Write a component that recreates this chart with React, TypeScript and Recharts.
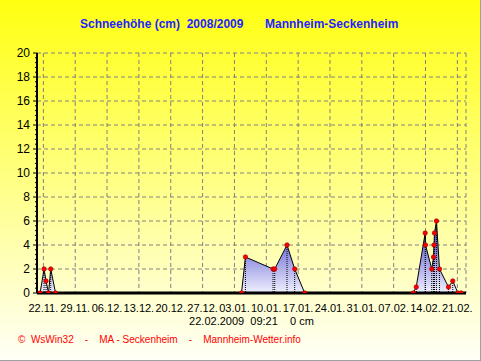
import {
  Area,
  Bar,
  CartesianGrid,
  ComposedChart,
  Line,
  XAxis,
  YAxis,
} from 'recharts';

// days after 22.11.2008 (measurement time) and snow depth in cm
const dayOffsets = [
  -0.72, 0.15, 0.59, 1.14, 1.62, 2.68,
  43.55, 44.42, 50.48, 50.86, 53.56, 55.25, 57.44,
  81.3, 81.96, 83.93, 84.0, 85.38, 85.76, 85.87, 85.97, 86.41, 87.07, 89.05, 89.99, 91.13, 91.83,
];
const snowDepth = [
  0, 2, 1, 0, 2, 0,
  0, 3, 2, 2, 4, 2, 0,
  0, 0.5, 5, 4, 2, 3, 4, 5, 6, 2, 0.5, 1, 0, 0,
];

const xTickDays = [0, 7, 14, 21, 28, 35, 42, 49, 56, 63, 70, 77, 84, 91];
const xTickLabels = [
  '22.11.', '29.11.', '06.12.', '13.12.', '20.12.', '27.12.', '03.01.',
  '10.01.', '17.01.', '24.01.', '31.01.', '07.02.', '14.02.', '21.02.',
];
const yLabels = [0, 2, 4, 6, 8, 10, 12, 14, 16, 18, 20];
const yMinorTicks = Array.from({ length: 51 }, (_, i) => +(i * 0.4).toFixed(1));

const FONT = '"Liberation Sans", Arial, sans-serif';

const data = dayOffsets.map((day, i) => ({ day, depth: snowDepth[i] }));

function YTick({ x, y, payload }: any) {
  const v = payload.value as number;
  const major = yLabels.some((l) => Math.abs(l - v) < 1e-6);
  return (
    <g>
      <line x1={x - (major ? 4 : 2)} x2={x} y1={y} y2={y} stroke="#000" />
      {major && (
        <text x={x - 7} y={y} dy={4} textAnchor="end" fontSize={12} fill="#000" fontFamily={FONT}>
          {v}
        </text>
      )}
    </g>
  );
}

function DropLine({ x, y, width, height }: any) {
  if (!height || height <= 0) return null;
  const cx = x + width / 2;
  return (
    <line x1={cx} x2={cx} y1={y} y2={y + height} stroke="#000" strokeDasharray="1 1" />
  );
}

function RedDot({ cx, cy, index }: any) {
  if (cx == null || cy == null) return null;
  return <circle key={index} cx={cx} cy={cy} r={2.2} fill="#ff0000" stroke="#aa0000" strokeWidth={0.7} />;
}

export default function App() {
  return (
    <div
      style={{
        position: 'absolute',
        left: 0,
        top: 0,
        width: 481,
        height: 361,
        background: 'linear-gradient(to bottom, #ffff10 0%, #fffff8 100%)',
        fontFamily: FONT,
        overflow: 'hidden',
      }}
    >
      <div style={{ position: 'absolute', left: 80, top: 17, fontSize: 12, fontWeight: 'bold', color: '#1f1fff', whiteSpace: 'pre' }}>
        Schneehöhe (cm)  2008/2009
      </div>
      <div style={{ position: 'absolute', left: 265, top: 17, fontSize: 12, fontWeight: 'bold', color: '#1f1fff', whiteSpace: 'pre' }}>
        Mannheim-Seckenheim
      </div>

      <ComposedChart
        width={481}
        height={361}
        data={data}
        margin={{ top: 53, right: 15, bottom: 48, left: 0 }}
      >
        <defs>
          <linearGradient id="snowFill" x1="0" y1="0" x2="0" y2="1">
            <stop offset="0%" stopColor="#3434c4" />
            <stop offset="100%" stopColor="#f0f0ff" />
          </linearGradient>
        </defs>
        <CartesianGrid
          stroke="#808080"
          strokeDasharray="4 3"
          horizontalValues={yLabels}
        />
        <XAxis
          dataKey="day"
          type="number"
          domain={[-1.4, 92.9]}
          allowDataOverflow
          ticks={xTickDays}
          interval={0}
          tickFormatter={(v: number) => xTickLabels[xTickDays.indexOf(v)] ?? ''}
          height={20}
          tickLine={false}
          tickSize={0}
          tickMargin={11}
          axisLine={{ stroke: '#000', strokeWidth: 3 }}
          tick={{ fill: '#000', fontSize: 11, fontFamily: FONT }}
        />
        <XAxis
          xAxisId="top"
          orientation="top"
          dataKey="day"
          type="number"
          domain={[-1.4, 92.9]}
          allowDataOverflow
          ticks={xTickDays}
          interval={0}
          height={0}
          tick={false}
          tickSize={3}
          tickLine={{ stroke: '#000' }}
          axisLine={{ stroke: '#000' }}
        />
        <YAxis
          type="number"
          domain={[0, 20]}
          allowDataOverflow
          ticks={yMinorTicks}
          interval={0}
          width={37}
          tickLine={false}
          tickSize={0}
          tickMargin={0}
          axisLine={{ stroke: '#000', strokeWidth: 2 }}
          tick={<YTick />}
        />
        <YAxis
          yAxisId="right"
          orientation="right"
          type="number"
          domain={[0, 20]}
          width={0}
          tick={false}
          tickLine={false}
          axisLine={{ stroke: '#000' }}
        />
        <Area
          type="linear"
          dataKey="depth"
          stroke="none"
          fill="url(#snowFill)"
          fillOpacity={1}
          dot={false}
          activeDot={false}
          isAnimationActive={false}
        />
        <Bar dataKey="depth" barSize={1} shape={<DropLine />} isAnimationActive={false} />
        <Line
          type="linear"
          dataKey="depth"
          stroke="#000"
          strokeWidth={1}
          dot={<RedDot />}
          activeDot={false}
          isAnimationActive={false}
        />
      </ComposedChart>

      <div style={{ position: 'absolute', left: 37, width: 429, top: 315, textAlign: 'center', fontSize: 11, color: '#000', whiteSpace: 'pre' }}>
        22.02.2009  09:21    0 cm
      </div>
      <div style={{ position: 'absolute', left: 18, top: 334, fontSize: 10, color: '#ff0000', whiteSpace: 'pre' }}>
        ©  WsWin32    -    MA - Seckenheim    -    Mannheim-Wetter.info
      </div>
      <div
        style={{
          position: 'absolute',
          left: 0,
          top: 0,
          width: 481,
          height: 361,
          boxSizing: 'border-box',
          borderRight: '1px solid #a0a0a0',
          borderBottom: '1px solid #a0a0a0',
          pointerEvents: 'none',
        }}
      />
    </div>
  );
}
